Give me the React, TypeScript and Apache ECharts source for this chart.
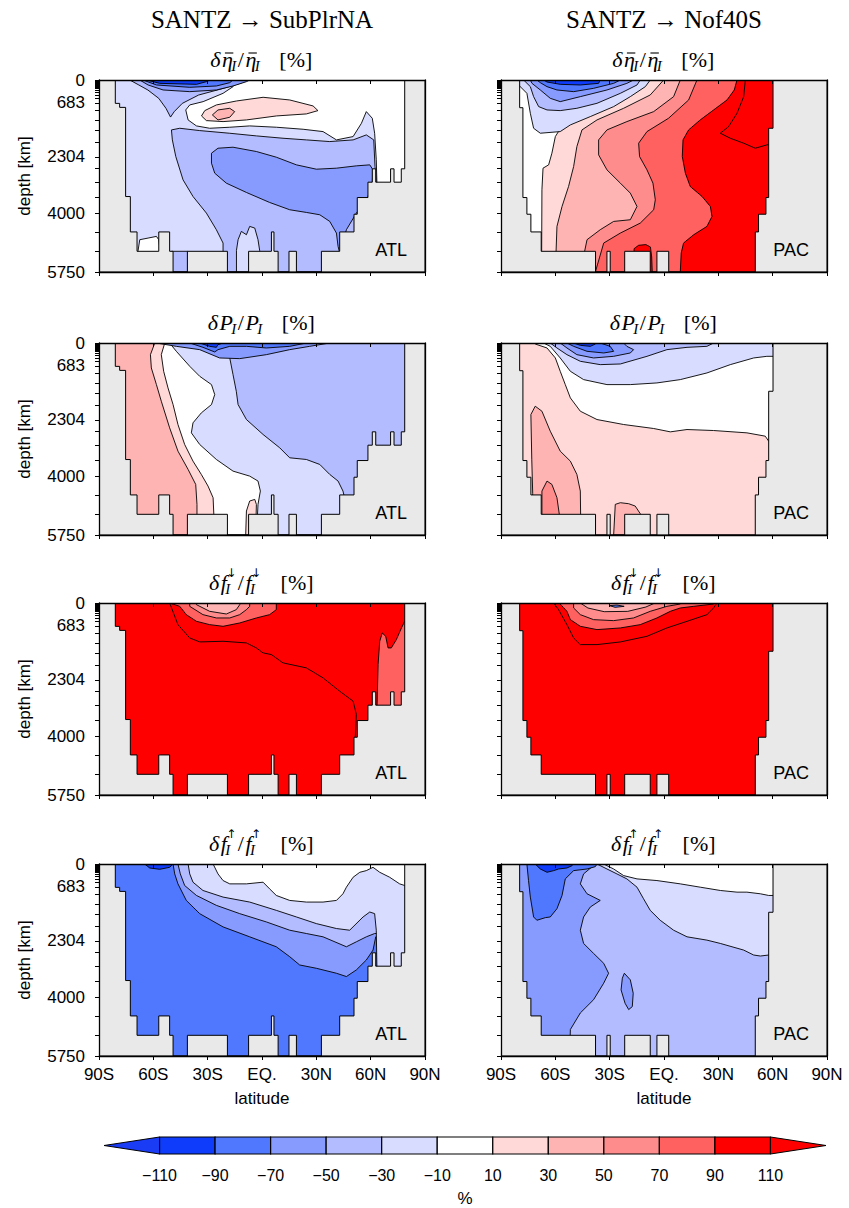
import React, { useEffect, useRef } from "react";
import * as echarts from "echarts";

// ---------------- data ----------------
const latTicks = [-90, -60, -30, 0, 30, 60, 90];
const latLabels = ["90S", "60S", "30S", "EQ.", "30N", "60N", "90N"];
const depthLabels = [0, 683, 2304, 4000, 5750];
const depthLevels = [0, 25, 50, 75, 100, 125, 150, 180, 210, 250, 300, 370, 450, 560, 683, 900, 1200, 1500, 1850, 2304, 2650, 3060, 3520, 4000, 4550, 5130, 5750];
const colorLevels = [-110, -90, -70, -50, -30, -10, 10, 30, 50, 70, 90, 110];
const columnHeaders = ["SANTZ \u2192 SubPlrNA", "SANTZ \u2192 Nof40S"];
const basinNames = ["ATL", "PAC"];

// ocean outlines [lat, depth] (top-left, down the walls, along the floor, up the right wall)
const atlOcean = [[-81.0, 0], [-81.0, 700], [-78.6, 700], [-78.6, 820], [-75.3, 820], [-75.3, 3490], [-72.7, 3490], [-72.7, 4550], [-69.0, 4550], [-69.0, 5130], [-57.0, 5130], [-57.0, 4550], [-51.0, 4550], [-51.0, 5130], [-49.1, 5130], [-49.1, 5750], [-41.2, 5750], [-41.2, 5130], [-19.1, 5130], [-19.1, 5750], [-7.4, 5750], [-7.4, 5130], [5.2, 5130], [5.2, 4550], [6.6, 4550], [6.6, 5130], [8.9, 5130], [8.9, 5750], [14.9, 5750], [14.9, 5130], [19.0, 5130], [19.0, 5750], [32.8, 5750], [32.8, 5130], [42.9, 5130], [42.9, 4550], [50.8, 4550], [50.8, 4020], [52.6, 4020], [52.6, 3520], [58.5, 3520], [58.5, 3060], [60.9, 3060], [60.9, 2660], [62.8, 2660], [62.8, 3060], [71.0, 3060], [71.0, 2660], [72.9, 2660], [72.9, 3060], [76.9, 3060], [76.9, 2660], [78.8, 2660], [78.8, 0]];
const pacOcean = [[-79.7, 0], [-79.7, 830], [-77.9, 830], [-77.9, 3520], [-75.7, 3520], [-75.7, 4020], [-73.5, 4020], [-73.5, 4550], [-67.8, 4550], [-67.8, 5130], [-37.8, 5130], [-37.8, 5750], [-31.5, 5750], [-31.5, 5130], [-29.7, 5130], [-29.7, 5750], [-21.7, 5750], [-21.7, 5130], [-7.6, 5130], [-7.6, 5750], [-3.9, 5750], [-3.9, 5130], [2.6, 5130], [2.6, 5750], [50.4, 5750], [50.4, 4550], [52.2, 4550], [52.2, 4020], [56.3, 4020], [56.3, 3520], [57.8, 3520], [57.8, 1445], [60.2, 1445], [60.2, 0]];

type Region = { v: number; pts: number[][] };

// row 1: d eta / eta
const atlEtaBase = -20;
const atlEta: Region[] = [
  { v: 0, pts: [[-14.1, 0], [81.5, 0], [81.5, 3190], [63.5, 3190], [63.1, 2390], [62.2, 1595], [60.9, 1146], [57.6, 947], [54.9, 1296], [50.3, 1694], [41.1, 1794], [33.7, 1545], [22.7, 1475], [8.0, 1415], [-6.8, 1375], [-17.8, 1415], [-28.9, 1445], [-36.2, 1375], [-40.8, 1196], [-42.1, 897], [-39.9, 747], [-32.5, 648], [-21.5, 399], [-16.0, 199]] },
  { v: 20, pts: [[-33.4, 1076], [-31.6, 917], [-25.2, 747], [-14.1, 628], [0.6, 518], [15.3, 598], [28.2, 777], [30.9, 917], [24.5, 1016], [8.0, 1076], [-8.6, 1196], [-21.5, 1246], [-30.7, 1216]] },
  { v: 40, pts: [[-27.4, 1046], [-24.3, 897], [-17.8, 847], [-15.1, 947], [-17.8, 1116], [-24.3, 1196]] },
  { v: -40, pts: [[-50.0, 1495], [-45.4, 1445], [-34.4, 1515], [-17.8, 1595], [-3.1, 1674], [11.6, 1744], [24.5, 1794], [37.4, 1844], [50.3, 1794], [57.6, 1644], [61.7, 1794], [62.4, 2591], [63.1, 3040], [63.1, 3986], [52.1, 4783], [44.7, 5182], [44.0, 5750], [-21.5, 5750], [-21.5, 4883], [-25.2, 4484], [-30.7, 3986], [-38.1, 3488], [-43.6, 2990], [-47.6, 2292], [-49.5, 1794]] },
  { v: -40, pts: [[-50.0, 5130], [-41.0, 5130], [-41.0, 5750], [-50.0, 5750]] },
  { v: -20, pts: [[-14.1, 5750], [-14.1, 5102], [-13.2, 4783], [-11.4, 4534], [-8.6, 4634], [-6.8, 4385], [-4.0, 4434], [-2.2, 4783], [-1.3, 5102], [-1.3, 5750]] },
  { v: -60, pts: [[-27.9, 2192], [-24.3, 2043], [-16.0, 2013], [-3.1, 2142], [7.9, 2312], [19.0, 2541], [30.0, 2671], [41.1, 2641], [52.1, 2571], [59.5, 2541], [61.3, 2691], [60.9, 3040], [58.5, 3488], [52.1, 3986], [46.6, 4484], [42.9, 5182], [42.0, 4983], [41.1, 4584], [37.4, 4235], [31.9, 4036], [24.5, 3966], [15.3, 3886], [4.2, 3667], [-8.6, 3368], [-19.7, 3089], [-26.1, 2790], [-27.9, 2491]] },
  { v: 0, pts: [[-68.4, 5200], [-68.4, 5102], [-67.5, 4783], [-62.9, 4734], [-58.3, 4684], [-57.0, 4783], [-56.0, 5200]] },
  { v: -40, pts: [[-73.0, 0], [-68.0, 150], [-63.0, 300], [-57.0, 550], [-53.0, 850], [-50.5, 1110], [-48.5, 950], [-44.0, 700], [-35.0, 450], [-22.0, 260], [-12.0, 100], [-8.0, 0]] },
  { v: -60, pts: [[-67.5, 0], [-62.9, 149], [-54.6, 299], [-39.9, 349], [-25.2, 299], [-16.0, 179], [-8.6, 50], [-6.8, 0]] },
  { v: -80, pts: [[-65.7, 0], [-58.3, 149], [-39.9, 219], [-25.2, 179], [-17.8, 80], [-16.0, 0]] },
  { v: -100, pts: [[-63.8, 0], [-56.5, 100], [-36.2, 130], [-30.7, 50], [-28.9, 0]] },
];

const pacEtaBase = 100;
const pacEta: Region[] = [
  { v: 80, pts: [[-90, 0], [40.3, 0], [38.8, 299], [34.8, 598], [27.4, 897], [20.0, 1196], [13.6, 1495], [10.5, 1794], [10.1, 2292], [11.8, 2790], [14.5, 3189], [21.0, 3488], [25.6, 3787], [26.5, 4086], [23.7, 4385], [16.4, 4634], [10.8, 4883], [9.5, 5182], [9.0, 5750], [-90, 5750]] },
  { v: 60, pts: [[-90, 0], [18.2, 0], [13.6, 598], [2.5, 1146], [-9.4, 1545], [-14.0, 1893], [-13.5, 2292], [-9.4, 2691], [-6.1, 3089], [-4.8, 3587], [-5.7, 3886], [-13.1, 4285], [-24.1, 4584], [-33.3, 4883], [-37.9, 5750], [-90, 5750]] },
  { v: 40, pts: [[-90, 0], [9.0, 0], [5.3, 498], [-5.7, 947], [-20.5, 1246], [-31.5, 1495], [-36.1, 1794], [-36.1, 2242], [-31.5, 2691], [-24.1, 3089], [-18.6, 3388], [-14.9, 3787], [-18.6, 4185], [-27.8, 4235], [-35.2, 4484], [-42.5, 4783], [-46.2, 5750], [-90, 5750]] },
  { v: 20, pts: [[-90, 0], [-0.2, 0], [-7.6, 448], [-22.3, 847], [-37.0, 1196], [-45.3, 1495], [-48.1, 1993], [-49.9, 2591], [-52.7, 3189], [-56.3, 3787], [-59.1, 4385], [-60.0, 5750], [-90, 5750]] },
  { v: 0, pts: [[-90, 0], [-8.5, 0], [-20.5, 399], [-33.3, 698], [-46.2, 997], [-55.4, 1295], [-60.0, 1694], [-61.9, 2192], [-63.7, 2541], [-66.8, 2641], [-67.4, 3288], [-67.6, 5750], [-90, 5750]] },
  { v: -20, pts: [[-81.2, 0], [-7.6, 0], [-10.3, 199], [-18.6, 498], [-27.8, 797], [-40.7, 1096], [-51.7, 1345], [-57.3, 1545], [-68.3, 1594], [-72.0, 1445], [-73.8, 997], [-75.7, 399], [-81.2, 100]] },
  { v: -40, pts: [[-77.5, 0], [-13.1, 0], [-14.9, 149], [-24.1, 399], [-37.0, 698], [-48.1, 847], [-57.3, 917], [-64.6, 897], [-69.2, 797], [-72.0, 498], [-73.8, 199]] },
  { v: -60, pts: [[-73.8, 0], [-16.8, 0], [-20.5, 100], [-31.5, 299], [-46.2, 498], [-57.3, 648], [-62.8, 548], [-68.3, 299], [-72.9, 100]] },
  { v: -80, pts: [[-70.2, 0], [-24.1, 0], [-27.8, 100], [-38.9, 249], [-49.9, 349], [-59.1, 299], [-64.6, 199], [-68.3, 80]] },
  { v: -100, pts: [[-66.5, 0], [-35.2, 0], [-36.1, 100], [-46.2, 149], [-57.3, 130], [-64.6, 60]] },
  { v: 120, pts: [[44.9, 0], [44.0, 498], [40.3, 997], [35.7, 1395], [31.1, 1594], [36.6, 1744], [44.0, 1893], [50.4, 2043], [56.8, 1943], [64.2, 1893], [64.2, 0]] },
  { v: 100, pts: [[-17.0, 5750], [-16.5, 5050], [-14.0, 4950], [-10.0, 4930], [-7.5, 5000], [-6.8, 5300], [-6.5, 5750]] },
];

// row 2: d P / P
const atlPBase = -40;
const atlP: Region[] = [
  { v: -20, pts: [[-90, 0], [-19.7, 0], [-17.8, 448], [-16.0, 947], [-14.2, 1445], [-13.2, 1844], [-8.6, 2292], [0.6, 2740], [9.8, 3139], [15.3, 3438], [24.5, 3488], [31.9, 3637], [37.4, 3936], [42.0, 4135], [44.7, 4434], [45.6, 4634], [45.6, 5750], [-90, 5750]] },
  { v: 0, pts: [[-90, 0], [-51.0, 0], [-47.3, 249], [-39.9, 698], [-34.4, 997], [-27.9, 1246], [-26.1, 1545], [-27.9, 1844], [-33.5, 2093], [-38.1, 2392], [-39.0, 2691], [-34.4, 3039], [-25.2, 3488], [-16.0, 3837], [-6.8, 3986], [-2.2, 4135], [-0.9, 4434], [-2.2, 4833], [-3.1, 5750], [-90, 5750]] },
  { v: 20, pts: [[-90, 0], [-53.7, 0], [-55.6, 349], [-54.3, 847], [-51.9, 1345], [-49.1, 1844], [-46.4, 2441], [-42.7, 3039], [-38.1, 3538], [-33.5, 3936], [-29.8, 4285], [-27.0, 4634], [-26.1, 5750], [-90, 5750]] },
  { v: 40, pts: [[-90, 0], [-59.2, 0], [-61.6, 349], [-61.1, 747], [-58.3, 1246], [-55.6, 1744], [-51.0, 2541], [-46.4, 3239], [-40.8, 3787], [-36.6, 4235], [-35.9, 4833], [-35.9, 5750], [-90, 5750]] },
  { v: 20, pts: [[-9.0, 5750], [-8.6, 5032], [-6.8, 4733], [-4.0, 4684], [-3.1, 4833], [-3.5, 5750]] },
  { v: -60, pts: [[-58.3, 0], [-47.3, 100], [-34.4, 199], [-23.4, 448], [-12.3, 468], [2.4, 349], [15.3, 199], [26.3, 100], [37.4, 0]] },
  { v: -80, pts: [[-39.9, 0], [-32.6, 130], [-26.1, 269], [-24.3, 199], [-17.8, 100], [-8.6, 100], [2.4, 149], [15.3, 100], [24.5, 0]] },
  { v: -100, pts: [[-34.4, 0], [-28.9, 100], [-25.2, 130], [-24.3, 50], [-21.5, 0]] },
];

const pacPBase = 20;
const pacP: Region[] = [
  { v: 0, pts: [[-71.1, 0], [-71.1, 30], [-64.6, 149], [-60.0, 448], [-57.3, 847], [-54.5, 1246], [-51.7, 1644], [-46.2, 2043], [-37.0, 2292], [-22.3, 2441], [-5.7, 2561], [3.5, 2661], [12.7, 2591], [27.4, 2621], [45.8, 2691], [55.9, 2790], [57.8, 2940], [64.2, 2940], [64.2, 0]] },
  { v: -20, pts: [[-66.5, 0], [-62.8, 100], [-57.3, 448], [-51.7, 847], [-44.4, 1096], [-31.5, 1246], [-18.6, 1246], [-3.9, 1196], [9.0, 1096], [23.7, 897], [36.6, 648], [49.5, 448], [56.8, 399], [64.2, 399], [64.2, 0]] },
  { v: -40, pts: [[-62.8, 0], [-59.1, 149], [-53.6, 349], [-46.2, 548], [-35.2, 648], [-24.1, 628], [-9.4, 399], [1.6, 199], [12.7, 130], [23.7, 100], [27.4, 0]] },
  { v: -60, pts: [[-57.3, 0], [-53.6, 149], [-48.1, 349], [-38.9, 448], [-27.8, 399], [-18.6, 299], [-16.8, 199], [-20.5, 100], [-22.3, 0]] },
  { v: -80, pts: [[-53.6, 0], [-49.9, 100], [-42.5, 249], [-33.3, 299], [-27.8, 249], [-29.7, 100], [-35.2, 0]] },
  { v: -100, pts: [[-49.9, 0], [-46.2, 70], [-40.7, 100], [-37.9, 30], [-37.9, 0]] },
  { v: 40, pts: [[-73.5, 2142], [-71.1, 1893], [-67.4, 2043], [-62.8, 2641], [-57.3, 3239], [-51.7, 3538], [-48.1, 3936], [-46.2, 4434], [-45.9, 5750], [-73.0, 5750], [-72.5, 4500], [-73.0, 3500]] },
  { v: 60, pts: [[-67.4, 4434], [-64.6, 4135], [-61.9, 4235], [-59.1, 4634], [-57.8, 5132], [-57.8, 5750], [-67.4, 5750]] },
  { v: 40, pts: [[-27.8, 5750], [-26.9, 4833], [-24.1, 4783], [-19.5, 4813], [-15.9, 4883], [-13.1, 5112], [-13.1, 5750]] },
];

// row 3: d f_down / f_down
const atlFdBase = 100;
const atlFd: Region[] = [
  { v: 100, pts: [[-51.0, 0], [-46.4, 648], [-39.9, 1046], [-34.4, 1166], [-21.5, 1146], [-8.6, 1196], [-3.1, 1345], [0.6, 1495], [5.2, 1545], [11.6, 1794], [24.5, 1943], [33.7, 2242], [42.9, 2641], [50.3, 2940], [52.1, 3338], [51.5, 4036], [52.1, 4434], [81.5, 4434], [81.5, 0]] },
  { v: 80, pts: [[63.5, 3139], [64.1, 1844], [65.0, 1146], [66.4, 897], [68.3, 997], [69.6, 1345], [71.4, 1345], [74.2, 1096], [77.0, 747], [78.8, 548], [81.5, 548], [81.5, 3139]] },
  { v: 80, pts: [[-51.0, 0], [-45.4, 100], [-41.8, 349], [-36.2, 548], [-28.9, 648], [-21.5, 698], [-12.3, 598], [-3.1, 448], [4.2, 349], [7.9, 199], [7.9, 0]] },
  { v: 60, pts: [[-39.9, 0], [-39.9, 100], [-32.6, 349], [-25.2, 448], [-17.8, 448], [-12.3, 349], [-8.6, 199], [-6.8, 100], [-6.8, 0]] },
  { v: 40, pts: [[-36.2, 0], [-36.2, 50], [-28.9, 249], [-19.7, 329], [-14.2, 199], [-12.3, 50], [-12.3, 0]] },
];

const pacFdBase = 100;
const pacFd: Region[] = [
  { v: 100, pts: [[-60.9, 0], [-58.2, 199], [-53.6, 648], [-49.9, 1046], [-46.2, 1246], [-37.0, 1246], [-24.1, 1166], [-9.4, 997], [1.6, 747], [12.7, 548], [23.7, 349], [27.4, 149], [29.2, 0]] },
  { v: 80, pts: [[-57.3, 0], [-57.3, 30], [-53.6, 249], [-51.7, 498], [-46.2, 698], [-37.0, 797], [-24.1, 747], [-13.1, 648], [-3.9, 448], [3.5, 249], [9.0, 149], [16.4, 100], [27.4, 30], [27.4, 0]] },
  { v: 60, pts: [[-49.9, 0], [-49.9, 149], [-46.2, 349], [-38.9, 498], [-27.8, 528], [-16.8, 448], [-7.6, 249], [1.6, 100], [9.0, 30], [9.0, 0]] },
  { v: 40, pts: [[-46.2, 0], [-42.0, 150], [-33.0, 260], [-20.0, 250], [-10.0, 120], [-5.0, 0]] },
  { v: -80, pts: [[-30.0, 80], [-26.0, 60], [-22.0, 100], [-27.0, 130]] },
];

// row 4: d f_up / f_up
const atlFuBase = -80;
const atlFu: Region[] = [
  { v: -60, pts: [[-49.1, 0], [-48.2, 297], [-46.4, 595], [-41.8, 1091], [-34.4, 1487], [-21.5, 1884], [-6.8, 2181], [7.9, 2479], [15.3, 2776], [20.8, 3024], [30.0, 3123], [41.1, 3272], [46.6, 3371], [52.1, 3172], [57.6, 2875], [61.3, 2578], [62.8, 2181], [81.5, 2181], [81.5, 0]] },
  { v: -40, pts: [[-46.4, 0], [-45.1, 297], [-42.7, 644], [-36.2, 942], [-25.2, 1239], [-12.3, 1487], [2.4, 1735], [15.3, 1983], [24.5, 2082], [33.7, 2181], [46.6, 2479], [52.1, 2330], [57.6, 2181], [62.2, 2082], [81.5, 2082], [81.5, 0]] },
  { v: -20, pts: [[-40.8, 0], [-39.9, 297], [-38.1, 545], [-32.6, 793], [-21.5, 991], [-6.8, 1140], [7.9, 1388], [19.0, 1586], [30.0, 1785], [41.1, 1933], [48.4, 1983], [55.8, 1586], [59.5, 1438], [62.2, 1487], [63.1, 1983], [63.5, 3272], [81.5, 3272], [81.5, 0]] },
  { v: 0, pts: [[-27.0, 0], [-24.3, 297], [-21.5, 496], [-17.8, 595], [-8.6, 595], [0.6, 545], [4.2, 744], [7.9, 942], [15.3, 1091], [24.5, 1140], [33.7, 1140], [41.1, 1091], [44.7, 892], [46.6, 694], [50.3, 397], [54.0, 248], [57.6, 198], [61.3, 99], [65.0, 248], [70.5, 397], [76.0, 595], [78.8, 644], [81.5, 644], [81.5, 0]] },
  { v: -100, pts: [[-64.8, 0], [-62.0, 119], [-56.5, 159], [-51.0, 99], [-49.1, 0]] },
];

const pacFuBase = -40;
const pacFu: Region[] = [
  { v: -60, pts: [[-90, 0], [-37.9, 0], [-44.4, 297], [-46.2, 595], [-42.5, 892], [-35.2, 1091], [-40.7, 1289], [-44.4, 1586], [-46.2, 1983], [-44.4, 2379], [-38.9, 2677], [-33.3, 2974], [-30.6, 3272], [-33.3, 3569], [-38.9, 4065], [-46.2, 4461], [-51.7, 4957], [-52.1, 5750], [-90, 5750]] },
  { v: -80, pts: [[-75.7, 0], [-74.8, 496], [-73.8, 991], [-72.0, 1586], [-70.2, 1685], [-65.5, 1606], [-62.8, 1586], [-59.1, 1338], [-56.3, 942], [-54.5, 446], [-49.9, 198], [-42.5, 149], [-37.9, 79], [-37.0, 0]] },
  { v: -100, pts: [[-71.1, 0], [-68.3, 149], [-64.6, 248], [-60.9, 198], [-58.2, 149], [-53.6, 119], [-50.8, 50], [-49.9, 0]] },
  { v: -60, pts: [[-21.9, 3272], [-18.6, 3470], [-17.0, 3870], [-17.5, 4270], [-19.5, 4360], [-21.5, 4170], [-23.7, 3770], [-23.0, 3420]] },
  { v: -20, pts: [[-37.0, 0], [-31.5, 149], [-26.0, 297], [-20.5, 446], [-14.9, 694], [-11.3, 1041], [-7.6, 1388], [-2.1, 1685], [5.3, 1983], [12.7, 2181], [23.7, 2280], [31.1, 2379], [44.0, 2578], [49.5, 2726], [53.2, 2756], [57.8, 2726], [64.2, 2726], [64.2, 0]] },
  { v: 0, pts: [[-33.3, 0], [-27.8, 149], [-22.3, 347], [-14.9, 446], [-3.9, 496], [9.0, 595], [20.0, 694], [31.1, 793], [40.3, 843], [45.8, 843], [53.2, 892], [57.8, 942], [64.2, 942], [64.2, 0]] },
];

// ---------------- styling / layout ----------------
const BAND_COLORS = ["#0f3cfa", "#5078ff", "#879bff", "#b2bcff", "#d8dcff", "#ffffff", "#ffd8d8", "#ffb4b4", "#ff8c8c", "#ff6060", "#ff0000"];
const UNDER = "#1a3cf5";
const OVER = "#ff0000";
const LAND = "#e9e9e9";
const SANS = "'Liberation Sans', Arial, sans-serif";
const SERIF = "'Liberation Serif', 'DejaVu Serif', serif";
const ARROWFONT = "'DejaVu Sans', sans-serif";

function colorOf(v: number) {
  if (v < colorLevels[0]) return UNDER;
  if (v > colorLevels[colorLevels.length - 1]) return OVER;
  for (let i = 0; i < colorLevels.length - 1; i++) {
    if (v >= colorLevels[i] && v <= colorLevels[i + 1]) return BAND_COLORS[i];
  }
  return OVER;
}

const COL_LEFT = [99, 501];
const ROW_TOP = [80, 343, 603, 864];
const PW = 326;
const PH = 192;

type Piece = { t?: string; it?: boolean; sub?: string; sup?: string; bar?: boolean; gap?: number };
const titlePieces: Piece[][] = [
  [{ t: "\u03b4", it: true }, { t: "\u03b7", it: true, bar: true, sub: "I" }, { t: "/" }, { t: "\u03b7", it: true, bar: true, sub: "I" }, { gap: 18 }, { t: "[%]" }],
  [{ t: "\u03b4", it: true }, { t: "P", it: true, sub: "I" }, { t: "/" }, { t: "P", it: true, sub: "I" }, { gap: 18 }, { t: "[%]" }],
  [{ t: "\u03b4", it: true }, { t: "f", it: true, sub: "I", sup: "\u2193" }, { t: "/" }, { t: "f", it: true, sub: "I", sup: "\u2193" }, { gap: 18 }, { t: "[%]" }],
  [{ t: "\u03b4", it: true }, { t: "f", it: true, sub: "I", sup: "\u2191" }, { t: "/" }, { t: "f", it: true, sub: "I", sup: "\u2191" }, { gap: 18 }, { t: "[%]" }],
];

const panels = [
  { basin: 0, ocean: atlOcean, base: atlEtaBase, regions: atlEta, title: 0 },
  { basin: 1, ocean: pacOcean, base: pacEtaBase, regions: pacEta, title: 0 },
  { basin: 0, ocean: atlOcean, base: atlPBase, regions: atlP, title: 1 },
  { basin: 1, ocean: pacOcean, base: pacPBase, regions: pacP, title: 1 },
  { basin: 0, ocean: atlOcean, base: atlFdBase, regions: atlFd, title: 2 },
  { basin: 1, ocean: pacOcean, base: pacFdBase, regions: pacFd, title: 2 },
  { basin: 0, ocean: atlOcean, base: atlFuBase, regions: atlFu, title: 3 },
  { basin: 1, ocean: pacOcean, base: pacFuBase, regions: pacFu, title: 3 },
];

let measureCtx: CanvasRenderingContext2D | null = null;
function tw(t: string, size: number, italic: boolean, family = '"Liberation Serif"') {
  if (!measureCtx) measureCtx = document.createElement("canvas").getContext("2d");
  if (!measureCtx) return t.length * size * 0.5;
  measureCtx.font = `${italic ? "italic " : ""}${size}px ${family}`;
  return measureCtx.measureText(t).width;
}

function textEl(t: string, x: number, y: number, size: number, italic: boolean, family = SERIF, align = "left") {
  return {
    type: "text",
    x,
    y,
    z: 100,
    silent: true,
    style: {
      text: t,
      fontSize: size,
      fontFamily: family,
      fontStyle: italic ? "italic" : "normal",
      fill: "#000",
      align,
      verticalAlign: "middle",
      textAlign: align,
      textVerticalAlign: "middle",
    },
  } as any;
}

function titleElements(pieces: Piece[], cx: number, cy: number) {
  const FS = 22;
  const SS = 15;
  const AS = 12;
  const els: any[] = [];
  let x = 0;
  for (const p of pieces) {
    if (p.gap) {
      x += p.gap;
      continue;
    }
    const t = p.t || "";
    const w = tw(t, FS, !!p.it);
    els.push(textEl(t, x, cy, FS, !!p.it));
    if (p.bar) {
      els.push({ type: "line", z: 100, silent: true, shape: { x1: x + 3, y1: cy - 6, x2: x + w + 0.5, y2: cy - 6 }, style: { stroke: "#000", lineWidth: 1.1 } });
    }
    let adv = w;
    if (p.sub || p.sup) {
      const sx = x + w - (p.it ? 1.5 : 0);
      let sw = 0;
      if (p.sub) {
        els.push(textEl(p.sub, sx, cy + 7, SS, true));
        sw = Math.max(sw, tw(p.sub, SS, true));
      }
      if (p.sup) {
        els.push(textEl(p.sup, sx + 1, cy - 9, AS, false, ARROWFONT));
        sw = Math.max(sw, tw(p.sup, AS, false, '"DejaVu Sans"') + 1);
      }
      adv = w - (p.it ? 1.5 : 0) + sw;
    }
    x += adv + 1.5;
  }
  const off = cx - x / 2;
  els.forEach((e) => {
    if (e.type === "text") e.x += off;
    else {
      e.shape.x1 += off;
      e.shape.x2 += off;
    }
  });
  return els;
}

function buildOption() {
  const grids: any[] = [];
  const xAxes: any[] = [];
  const yAxes: any[] = [];
  const series: any[] = [];
  const graphics: any[] = [];
  const axisLineStyle = { color: "#000", width: 1.3 };

  panels.forEach((p, i) => {
    const row = Math.floor(i / 2);
    const col = i % 2;
    const left = COL_LEFT[col];
    const top = ROW_TOP[row];
    grids.push({ left, top, width: PW, height: PH, show: true, backgroundColor: colorOf(p.base), borderWidth: 0 });
    xAxes.push({
      type: "value", gridIndex: i, min: -90, max: 90, interval: 30, position: "bottom", z: 10,
      axisLine: { show: true, onZero: false, lineStyle: axisLineStyle },
      axisTick: { show: true, length: 4, inside: false, lineStyle: { color: "#000", width: 1 } },
      axisLabel: {
        show: row === 3, margin: 10, fontSize: 17, color: "#000", fontFamily: SANS,
        formatter: (v: number) => latLabels[latTicks.indexOf(v)] ?? "",
      },
      splitLine: { show: false },
      name: row === 3 ? "latitude" : "", nameLocation: "middle", nameGap: 34,
      nameTextStyle: { fontSize: 17, color: "#000", fontFamily: SANS },
    });
    xAxes.push({
      type: "value", gridIndex: i, min: -90, max: 90, interval: 30, position: "top", z: 10,
      axisLine: { show: true, onZero: false, lineStyle: axisLineStyle },
      axisTick: { show: true, length: 4, inside: true, lineStyle: { color: "#000", width: 1 } },
      axisLabel: { show: false },
      splitLine: { show: false },
    });
    yAxes.push({
      type: "value", gridIndex: i, min: 0, max: 5750, inverse: true, position: "left", z: 10,
      axisLine: { show: true, onZero: false, lineStyle: axisLineStyle },
      axisTick: { show: true, length: 4, inside: false, customValues: depthLevels, lineStyle: { color: "#000", width: 1 } },
      axisLabel: {
        show: col === 0, customValues: depthLabels, margin: 14, fontSize: 17, color: "#000", fontFamily: SANS,
        formatter: (v: number) => String(Math.round(v)),
      },
      splitLine: { show: false },
      name: col === 0 ? "depth [km]" : "", nameLocation: "middle", nameGap: 66, nameRotate: 90,
      nameTextStyle: { fontSize: 17, color: "#000", fontFamily: SANS },
    });
    yAxes.push({
      type: "value", gridIndex: i, min: 0, max: 5750, inverse: true, position: "right", z: 10,
      axisLine: { show: true, onZero: false, lineStyle: axisLineStyle },
      axisTick: { show: false },
      axisLabel: { show: false },
      splitLine: { show: false },
    });

    const regions = p.regions;
    series.push({
      type: "custom", xAxisIndex: 2 * i, yAxisIndex: 2 * i, clip: true, z: 2, silent: true,
      data: regions.map((r) => [r.pts[0][0], r.pts[0][1], r.v]),
      renderItem: (params: any, api: any) => {
        const r = regions[params.dataIndex];
        return {
          type: "polygon",
          shape: { points: r.pts.map((pt) => api.coord(pt)) },
          style: { fill: colorOf(r.v), stroke: "#000", lineWidth: 0.9 },
        };
      },
    });
    const landPts = [[-90, 0], ...p.ocean, [90, 0], [90, 5750], [-90, 5750]];
    series.push({
      type: "custom", xAxisIndex: 2 * i, yAxisIndex: 2 * i, clip: true, z: 3, silent: true,
      data: [[0, 0]],
      renderItem: (_params: any, api: any) => ({
        type: "polygon",
        shape: { points: landPts.map((pt) => api.coord(pt)) },
        style: { fill: LAND, stroke: "#000", lineWidth: 1 },
      }),
    });

    graphics.push(...titleElements(titlePieces[p.title], left + PW / 2, top - 21));
    graphics.push(textEl(basinNames[p.basin], left + PW - 18, top + PH - 22, 18, false, SANS, "right"));
  });

  columnHeaders.forEach((h, c) => {
    graphics.push(textEl(h, COL_LEFT[c] + PW / 2, 19, 25, false, SERIF, "center"));
  });

  // colour bar
  grids.push({ left: 104, width: 722, top: 1137, height: 26 });
  xAxes.push({
    type: "value", gridIndex: 8, min: -130, max: 130, position: "bottom",
    axisLine: { show: false, onZero: false }, axisTick: { show: false }, splitLine: { show: false },
    axisLabel: {
      customValues: colorLevels, margin: 13, fontSize: 16, color: "#000", fontFamily: SANS,
      formatter: (v: number) => (v < 0 ? "\u2212" + Math.abs(v) : String(v)),
    },
    name: "%", nameLocation: "middle", nameGap: 36, nameTextStyle: { fontSize: 17, color: "#000", fontFamily: SANS },
  });
  yAxes.push({ type: "value", gridIndex: 8, min: 0, max: 1, show: false });
  const cbItems: number[][] = [];
  for (let i = 0; i < colorLevels.length - 1; i++) cbItems.push([colorLevels[i], colorLevels[i + 1]]);
  series.push({
    type: "custom", xAxisIndex: 16, yAxisIndex: 16, silent: true, z: 2,
    data: cbItems,
    renderItem: (params: any, api: any) => {
      const lo = api.value(0);
      const hi = api.value(1);
      const mid = (lo + hi) / 2;
      return {
        type: "polygon",
        shape: { points: [api.coord([lo, 0]), api.coord([hi, 0]), api.coord([hi, 1]), api.coord([lo, 1])] },
        style: { fill: colorOf(mid), stroke: "#000", lineWidth: 1.2 },
      };
    },
  });
  const lowEnd = colorLevels[0];
  const highEnd = colorLevels[colorLevels.length - 1];
  series.push({
    type: "custom", xAxisIndex: 16, yAxisIndex: 16, silent: true, z: 2,
    data: [[lowEnd, -130], [highEnd, 130]],
    renderItem: (params: any, api: any) => {
      const base = api.value(0);
      const tip = api.value(1);
      return {
        type: "polygon",
        shape: { points: [api.coord([base, 0]), api.coord([base, 1]), api.coord([tip, 0.5])] },
        style: { fill: tip < 0 ? UNDER : OVER, stroke: "#000", lineWidth: 1 },
      };
    },
  });

  return {
    animation: false,
    backgroundColor: "#fff",
    grid: grids,
    xAxis: xAxes,
    yAxis: yAxes,
    series,
    graphic: { elements: graphics },
  };
}

export default function App() {
  const ref = useRef<HTMLDivElement>(null);
  useEffect(() => {
    if (!ref.current) return;
    const chart = echarts.init(ref.current, undefined, { renderer: "svg" });
    chart.setOption(buildOption() as any);
    return () => chart.dispose();
  }, []);
  return <div ref={ref} style={{ position: "absolute", left: 0, top: 0, width: 849, height: 1208 }} />;
}
